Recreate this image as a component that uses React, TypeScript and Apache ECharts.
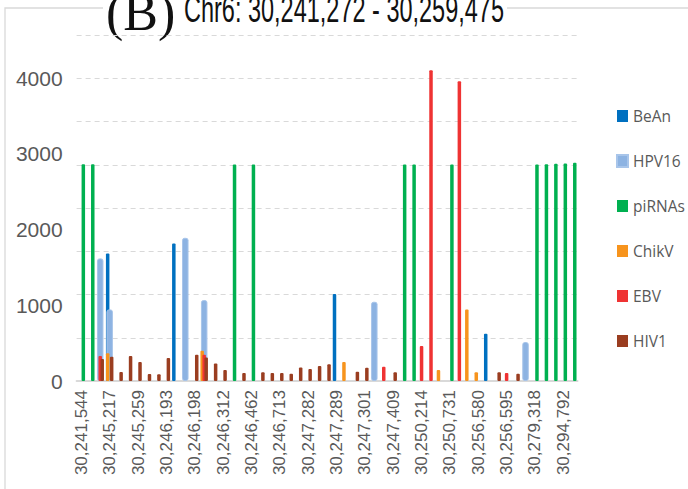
import React, { useEffect, useRef } from "react";
import * as echarts from "echarts";

// Genomic sites along Chr6; only every third site carries a tick label.
const SITE_COUNT = 53;
const LABEL_STEP = 3;
const TICK_LABELS = [
  "30,241,544", "30,245,217", "30,245,259", "30,246,193", "30,246,198", "30,246,312",
  "30,246,462", "30,246,713", "30,247,282", "30,247,289", "30,247,301", "30,247,409",
  "30,250,214", "30,250,731", "30,256,580", "30,256,595", "30,279,318", "30,294,792",
];
const Y_LABELS = [0, 1000, 2000, 3000, 4000];

// [site index, value] pairs for each small-RNA source
const BEAN: [number, number][] = [[3, 1686], [10, 1818], [27, 1148], [43, 625]];
const HPV16: [number, number][] = [[2, 1620], [3, 946], [11, 1892], [13, 1069], [31, 1047], [47, 515]];
const PIRNAS: [number, number][] = [
  [0, 2865], [1, 2865], [16, 2860], [18, 2860], [34, 2860], [35, 2860], [39, 2860],
  [48, 2860], [49, 2865], [50, 2870], [51, 2874], [52, 2882],
];
const CHIKV: [number, number][] = [[3, 366], [13, 400], [28, 251], [38, 145], [41, 946], [42, 114]];
const EBV: [number, number][] = [[2, 330], [13, 347], [32, 189], [36, 462], [37, 4106], [40, 3960], [45, 106]];
const HIV1: [number, number][] = [
  [2, 290], [3, 321], [4, 119], [5, 330], [6, 251], [7, 92], [8, 88], [9, 304], [12, 347],
  [13, 310], [14, 230], [15, 145], [17, 106], [19, 114], [20, 106], [21, 106], [22, 97],
  [23, 180], [24, 158], [25, 198], [26, 222], [29, 123], [30, 176], [33, 115], [44, 114], [46, 97],
];

const dense = (pairs: [number, number][]) => {
  const out: (number | null)[] = new Array(SITE_COUNT).fill(null);
  pairs.forEach(([i, v]) => (out[i] = v));
  return out;
};

const SITES = Array.from({ length: SITE_COUNT }, (_, i) => String(i));
const Y_MAX = 32000 / 7;

const BAR_W = 3.5;

export default function App() {
  const ref = useRef<HTMLDivElement>(null);

  useEffect(() => {
    if (!ref.current) return;
    const chart = echarts.init(ref.current, null, { renderer: "svg" });

    const bar = (
      name: string,
      pairs: [number, number][],
      color: string,
      axis: number,
      width: number,
      gap: string,
      extra: any = {}
    ) => ({
      name,
      type: "bar",
      xAxisIndex: axis,
      yAxisIndex: 0,
      barWidth: width,
      barGap: gap,
      data: dense(pairs),
      itemStyle: { color, borderRadius: 1, ...extra },
    });

    const hiddenCat = { type: "category", data: SITES, show: false, position: "bottom" };

    chart.setOption({
      animation: false,
      backgroundColor: "#ffffff",
      textStyle: { fontFamily: "Liberation Sans" },
      grid: { left: 76.6, right: 110.5, top: 35, bottom: 108, containLabel: false },
      legend: {
        orient: "vertical",
        left: 611,
        top: 103,
        itemWidth: 11,
        itemHeight: 12,
        itemGap: 29,
        icon: "rect",
        textStyle: { fontSize: 15.5, color: "#595959", fontFamily: "Open Sans", lineHeight: 16 },
        data: ["BeAn", "HPV16", "piRNAs", "ChikV", "EBV", "HIV1"],
      },
      xAxis: [
        {
          type: "category",
          data: SITES,
          position: "bottom",
          axisLine: { show: true, lineStyle: { color: "#d9d9d9", width: 2 } },
          axisTick: { show: false },
          axisLabel: {
            interval: 0,
            rotate: 90,
            margin: 9,
            fontSize: 17,
            color: "#595959",
            fontFamily: "Liberation Sans",
            formatter: (_v: string, idx: number) =>
              idx % LABEL_STEP === 0 ? TICK_LABELS[idx / LABEL_STEP] ?? "" : "",
          },
        },
        hiddenCat,
        hiddenCat,
      ],
      yAxis: [
        {
          type: "value",
          min: 0,
          max: Y_MAX,
          interval: 1000,
          axisLine: { show: false },
          axisTick: { show: false },
          splitLine: { show: false },
          axisLabel: {
            fontSize: 21,
            color: "#595959",
            margin: 14,
            showMaxLabel: false,
            formatter: (v: number) => (Y_LABELS.includes(Math.round(v)) ? String(Math.round(v)) : ""),
          },
        },
        {
          type: "value",
          min: 0,
          max: 8,
          interval: 1,
          position: "left",
          axisLine: { show: false },
          axisTick: { show: false },
          axisLabel: { show: false },
          splitLine: { show: true, lineStyle: { color: "#d9d9d9", width: 1, type: [5, 4] } },
        },
      ],
      series: [
        // BeAn and piRNAs sit either side of the site centre, HPV16 wide in the middle
        bar("BeAn", BEAN, "#0070c0", 0, BAR_W, "14.3%"),
        bar("HPV16", HPV16, "#8db3e2", 2, 6.5, "0%", { borderColor: "#a8c5ea", borderWidth: 1, borderRadius: 2 }),
        bar("piRNAs", PIRNAS, "#00b050", 0, BAR_W, "14.3%"),
        // ChikV, EBV and HIV1 step left to right by 2px
        bar("ChikV", CHIKV, "#f7941d", 1, BAR_W, "-43%"),
        bar("EBV", EBV, "#ef3333", 1, BAR_W, "-43%"),
        bar("HIV1", HIV1, "#9a3d20", 1, BAR_W, "-43%"),
      ],
      graphic: [
        {
          type: "rect",
          silent: true,
          shape: { x: 5, y: 8, width: 800, height: 600 },
          style: { fill: "none", stroke: "#d9d9d9", lineWidth: 1.3 },
        },
        {
          type: "rect",
          silent: true,
          shape: { x: 103, y: 0, width: 404, height: 14 },
          style: { fill: "#ffffff" },
        },
        {
          type: "text",
          x: 106,
          y: 12.5,
          style: {
            text: "(B)",
            font: "52px 'Liberation Serif'",
            fill: "#111111",
            align: "left",
            verticalAlign: "middle",
          },
        },
        {
          type: "text",
          x: 184,
          y: 9.5,
          scaleX: 0.635,
          style: {
            text: "Chr6: 30,241,272 - 30,259,475",
            font: "37px 'Liberation Sans'",
            fill: "#111111",
            align: "left",
            verticalAlign: "middle",
          },
        },
      ],
    });

    return () => chart.dispose();
  }, []);

  return (
    <div
      ref={ref}
      style={{ position: "fixed", left: 0, top: 0, width: 688, height: 489 }}
    />
  );
}
